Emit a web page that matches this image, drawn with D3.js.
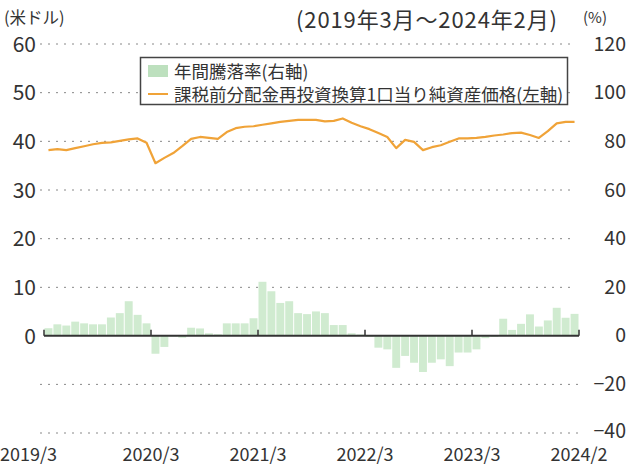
<!DOCTYPE html>
<html>
<head>
<meta charset="utf-8">
<script src="https://cdn.jsdelivr.net/npm/d3@7"></script>
<style>
  body { margin: 0; background: #fff; }
  svg text { font-family: "Noto Sans CJK JP", "Noto Sans", sans-serif; fill: #333; }
  .grid line { stroke: #888; stroke-width: 1; stroke-dasharray: 2,6; }
</style>
</head>
<body>
<div id="chart"></div>
<script>
// NAV per unit, dividends reinvested (USD, left axis)
var navValues = [
  38.2, 38.4, 38.2, 38.6, 39.0, 39.4, 39.7, 39.8, 40.1, 40.4, 40.6, 39.7,
  35.5, 36.6, 37.6, 39.0, 40.5, 40.9, 40.7, 40.5, 41.9, 42.7, 43.0, 43.1,
  43.4, 43.7, 44.0, 44.2, 44.4, 44.4, 44.4, 44.1, 44.2, 44.7, 43.8, 43.1,
  42.5, 41.7, 40.9, 38.6, 40.3, 39.9, 38.2, 38.8, 39.2, 39.9, 40.6, 40.6,
  40.7, 40.9, 41.2, 41.4, 41.7, 41.8, 41.3, 40.7, 42.1, 43.7, 44.0, 44.0
];
// annual return (%, right axis)
var returnValues = [
  3.1, 4.7, 4.2, 5.8, 5.1, 4.7, 4.7, 7.5, 9.3, 14.2, 8.6, 5.1,
  -7.4, -4.6, -0.3, -0.8, 3.3, 3.0, 1.0, 0.6, 5.1, 5.1, 5.1, 7.2,
  22.2, 18.3, 13.5, 14.2, 9.3, 8.9, 10.0, 9.3, 4.4, 4.4, 1.0, 0.5,
  -0.5, -4.9, -5.6, -13.2, -8.3, -11.1, -14.9, -11.1, -9.7, -12.5, -6.9, -6.9,
  -5.6, -1.0, -0.5, 7.0, 2.4, 4.9, 8.8, 3.8, 6.3, 11.5, 7.4, 9.0
];
var xTickMonths = [0, 12, 24, 36, 48, 60];
var xTickLabels = ["2019/3", "2020/3", "2021/3", "2022/3", "2023/3", "2024/2"];
var leftTicks = [0, 10, 20, 30, 40, 50, 60];
var rightTicks = [-40, -20, 0, 20, 40, 60, 80, 100, 120];
var legendLabels = ["年間騰落率(右軸)", "課税前分配金再投資換算1口当り純資産価格(左軸)"];

var width = 631, height = 465;
var svg = d3.select("#chart").append("svg")
    .attr("width", width)
    .attr("height", height);

var months = d3.range(navValues.length);

var x = d3.scaleLinear().domain([0, months.length]).range([44, 579]);
var bw = x(1) - x(0);
var yLeft = d3.scaleLinear().domain([0, 60]).range([336, 44]);
var yRight = d3.scaleLinear().domain([-40, 120]).range([433, 44]);

// dotted grid
var grid = svg.append("g").attr("class", "grid");
grid.selectAll("line.l")
    .data(leftTicks.filter(d => d !== 0))
    .join("line")
    .attr("x1", 40).attr("x2", 576)
    .attr("y1", d => yLeft(d)).attr("y2", d => yLeft(d));
grid.selectAll("line.r")
    .data([-20, -40])
    .join("line")
    .attr("x1", 40).attr("x2", 578)
    .attr("y1", d => yRight(d)).attr("y2", d => yRight(d));

// bars
svg.append("g").selectAll("rect")
    .data(returnValues)
    .join("rect")
    .attr("x", (d, i) => x(i) + 0.5)
    .attr("width", bw - 1)
    .attr("y", d => yRight(Math.max(0, d)))
    .attr("height", d => Math.abs(yRight(d) - yRight(0)))
    .attr("fill", "#d0ebd0");

// zero axis with yearly ticks
svg.append("line")
    .attr("x1", x(0)).attr("x2", x(60))
    .attr("y1", yRight(0)).attr("y2", yRight(0))
    .attr("stroke", "#333").attr("stroke-width", 2);
svg.append("g").selectAll("line")
    .data(xTickMonths)
    .join("line")
    .attr("x1", d => x(d)).attr("x2", d => x(d))
    .attr("y1", yRight(0)).attr("y2", yRight(0) - 6)
    .attr("stroke", "#333").attr("stroke-width", 1.5);

// NAV line
var line = d3.line()
    .x((d, i) => x(i) + bw / 2)
    .y(d => yLeft(d));
svg.append("path")
    .datum(navValues)
    .attr("fill", "none")
    .attr("stroke", "#f0a338")
    .attr("stroke-width", 2.2)
    .attr("stroke-linejoin", "round")
    .attr("d", line);

// left axis labels
svg.append("g").selectAll("text")
    .data(leftTicks)
    .join("text")
    .attr("x", 36)
    .attr("y", d => yLeft(d))
    .attr("dy", "0.36em")
    .attr("text-anchor", "end")
    .attr("font-size", 21)
    .text(d => d);

// right axis labels
svg.append("g").selectAll("text")
    .data(rightTicks)
    .join("text")
    .attr("x", 626)
    .attr("y", d => yRight(d))
    .attr("dy", d => d === -40 ? "0.25em" : "0.34em")
    .attr("text-anchor", "end")
    .attr("font-size", 19.5)
    .text(d => d < 0 ? "−" + Math.abs(d) : d);

// x labels
svg.append("g").selectAll("text")
    .data(xTickMonths)
    .join("text")
    .attr("x", (d, i) => i === 0 ? 0 : x(d))
    .attr("y", 461)
    .attr("text-anchor", (d, i) => i === 0 ? "start" : "middle")
    .attr("font-size", 18)
    .text((d, i) => xTickLabels[i]);

// titles
svg.append("text").attr("x", 4).attr("y", 24).attr("font-size", 16.5).text("(米ドル)");
svg.append("text").attr("x", 583).attr("y", 23).attr("font-size", 15).text("(%)");
svg.append("text").attr("x", 296).attr("y", 28).attr("font-size", 22)
    .attr("textLength", 261).attr("lengthAdjust", "spacing")
    .text("(2019年3月～2024年2月)");

// legend
var lg = svg.append("g");
lg.append("rect")
    .attr("x", 140.5).attr("y", 57.5)
    .attr("width", 427).attr("height", 47)
    .attr("fill", "#fff").attr("stroke", "#444").attr("stroke-width", 1.5);
lg.append("rect")
    .attr("x", 148).attr("y", 65).attr("width", 20).attr("height", 12)
    .attr("fill", "#bde0be");
lg.append("line")
    .attr("x1", 148).attr("x2", 168).attr("y1", 94).attr("y2", 94)
    .attr("stroke", "#f0a338").attr("stroke-width", 2);
lg.selectAll("text.lbl")
    .data(legendLabels)
    .join("text")
    .attr("x", 174)
    .attr("y", (d, i) => 78 + i * 23)
    .attr("font-size", 17.5)
    .text(d => d);
</script>
</body>
</html>
